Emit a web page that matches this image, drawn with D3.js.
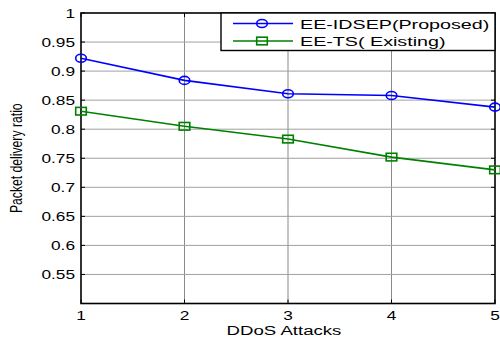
<!DOCTYPE html>
<html><head><meta charset="utf-8">
<script src="https://cdnjs.cloudflare.com/ajax/libs/d3/7.8.5/d3.min.js"></script>
<style>body{margin:0;background:#fff}svg{display:block}text{font-family:"Liberation Sans",Arial,sans-serif;fill:#000}</style>
</head><body><svg id="c" width="500" height="338"></svg>
<script>
const attacks = [1, 2, 3, 4, 5];
const proposed = [0.922, 0.884, 0.861, 0.858, 0.838];
const existing = [0.831, 0.805, 0.783, 0.752, 0.730];
const yTicks = [0.55, 0.6, 0.65, 0.7, 0.75, 0.8, 0.85, 0.9, 0.95, 1];
const yTickLabels = ["0.55","0.6","0.65","0.7","0.75","0.8","0.85","0.9","0.95","1"];
const seriesNames = ["EE-IDSEP(Proposed)", "EE-TS( Existing)"];
const colors = ["#0000ff", "#008000"];
const xLabel = "DDoS Attacks", yLabel = "Packet delivery ratio";

const SX = 1.38; // horizontal stretch of text in reference
const svg = d3.select("#c");
const L = 81, R = 495, T = 13, B = 303.5;
const x = d3.scaleLinear().domain([1, 5]).range([L, R]);
const y = d3.scaleLinear().domain([0.5, 1]).range([B, T]);

// grid
const g = svg.append("g");
g.selectAll(".gx").data(attacks.slice(1, -1)).join("line")
  .attr("x1", d => x(d)).attr("x2", d => x(d)).attr("y1", T).attr("y2", B)
  .attr("stroke", "#8a8a8a").attr("stroke-width", 1);
g.selectAll(".gy").data(yTicks.slice(0, -1)).join("line")
  .attr("x1", L).attr("x2", R).attr("y1", d => y(d)).attr("y2", d => y(d))
  .attr("stroke", "#a0a0a0").attr("stroke-width", 1);

// inward ticks on all four sides
const tk = svg.append("g").attr("stroke", "#000").attr("stroke-width", 1);
attacks.forEach(d => {
  tk.append("line").attr("x1", x(d)).attr("x2", x(d)).attr("y1", B).attr("y2", B - 4);
  tk.append("line").attr("x1", x(d)).attr("x2", x(d)).attr("y1", T).attr("y2", T + 4);
});
yTicks.forEach(d => {
  tk.append("line").attr("x1", L).attr("x2", L + 4).attr("y1", y(d)).attr("y2", y(d));
  tk.append("line").attr("x1", R).attr("x2", R - 4).attr("y1", y(d)).attr("y2", y(d));
});

// box
svg.append("rect").attr("x", L).attr("y", T).attr("width", R - L).attr("height", B - T)
  .attr("fill", "none").attr("stroke", "#000").attr("stroke-width", 1.6);

// tick labels
svg.selectAll(".yl").data(yTicks).join("text")
  .attr("transform", d => `translate(${L - 6},${y(d) + 4.5}) scale(${SX},1)`)
  .attr("text-anchor", "end").attr("font-size", 12.5)
  .text((d, i) => yTickLabels[i]);
svg.selectAll(".xl").data(attacks).join("text")
  .attr("transform", d => `translate(${x(d)},${B + 16.5}) scale(${SX},1)`)
  .attr("text-anchor", "middle").attr("font-size", 12.5)
  .text(d => d);

// axis labels
svg.append("text").attr("transform", `translate(${(L + R) / 2 - 4},334.5) scale(${SX},1)`)
  .attr("text-anchor", "middle").attr("font-size", 13.5).text(xLabel);
svg.append("text").attr("transform", `translate(22,${(T + B) / 2}) scale(${SX},1) rotate(-90)`)
  .attr("text-anchor", "middle").attr("font-size", 12.2).text(yLabel);

// series
const line = d3.line().x((d, i) => x(attacks[i])).y(d => y(d));
[proposed, existing].forEach((s, k) => {
  svg.append("path").datum(s).attr("d", line).attr("fill", "none")
    .attr("stroke", colors[k]).attr("stroke-width", 1.6);
});
svg.selectAll(".m0").data(proposed).join("ellipse")
  .attr("cx", (d, i) => x(attacks[i])).attr("cy", d => y(d)).attr("rx", 5.3).attr("ry", 4)
  .attr("fill", "none").attr("stroke", colors[0]).attr("stroke-width", 1.6);
svg.selectAll(".m1").data(existing).join("rect")
  .attr("x", (d, i) => x(attacks[i]) - 5.3).attr("y", d => y(d) - 3.8).attr("width", 10.6).attr("height", 7.6)
  .attr("fill", "none").attr("stroke", colors[1]).attr("stroke-width", 1.6);

// legend
const lg = svg.append("g");
lg.append("rect").attr("x", 221).attr("y", T).attr("width", R - 221).attr("height", 37.5)
  .attr("fill", "#fff").attr("stroke", "#000").attr("stroke-width", 1.4);
seriesNames.forEach((n, k) => {
  const yy = 23.5 + k * 17.5;
  lg.append("line").attr("x1", 233).attr("x2", 293).attr("y1", yy).attr("y2", yy)
    .attr("stroke", colors[k]).attr("stroke-width", 1.6);
  if (k === 0) lg.append("ellipse").attr("cx", 262).attr("cy", yy).attr("rx", 5.3).attr("ry", 4)
    .attr("fill", "none").attr("stroke", colors[k]).attr("stroke-width", 1.6);
  else lg.append("rect").attr("x", 262 - 5.3).attr("y", yy - 3.8).attr("width", 10.6).attr("height", 7.6)
    .attr("fill", "none").attr("stroke", colors[k]).attr("stroke-width", 1.6);
  lg.append("text").attr("transform", `translate(300,${yy + 5}) scale(1.46,1)`)
    .attr("font-size", 13.5).text(n);
});
</script></body></html>
